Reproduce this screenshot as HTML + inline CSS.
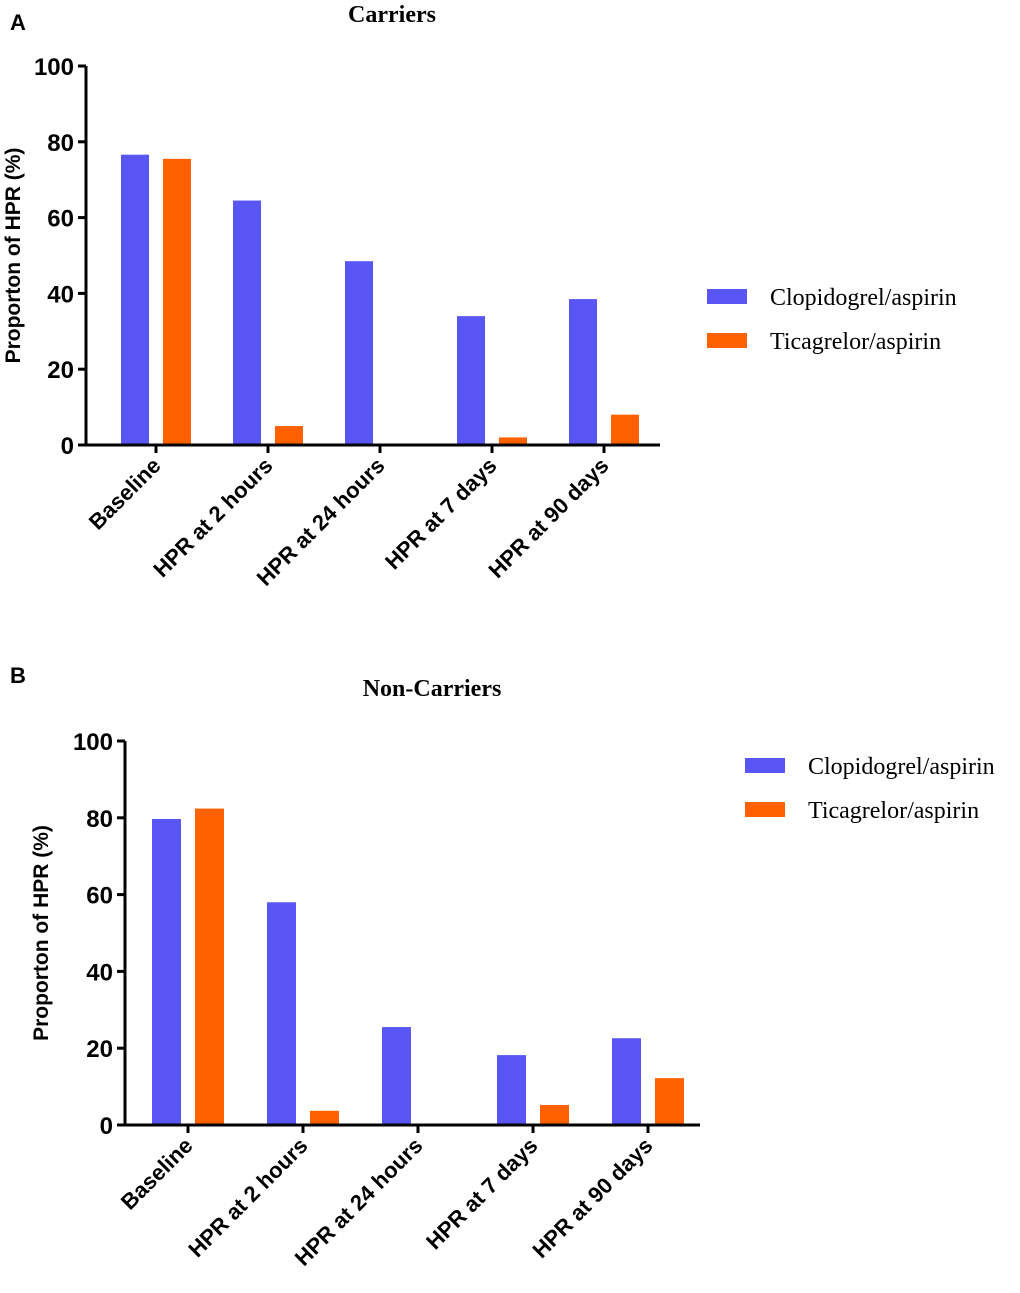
<!DOCTYPE html>
<html><head><meta charset="utf-8"><style>
body{margin:0;background:#fff}
svg text{font-family:"Liberation Sans",sans-serif}
.serif{font-family:"Liberation Serif",serif}
</style></head><body>
<svg id="chart" width="1020" height="1288" xmlns="http://www.w3.org/2000/svg"></svg>
<script>
const categories=["Baseline","HPR at 2 hours","HPR at 24 hours","HPR at 7 days","HPR at 90 days"];
const seriesNames=["Clopidogrel/aspirin","Ticagrelor/aspirin"];
const carriersClop=[76.6,64.5,48.5,34,38.5];
const carriersTica=[75.5,5,0,2,8];
const nonCarriersClop=[79.7,58,25.5,18.2,22.6];
const nonCarriersTica=[82.4,3.7,0,5.2,12.2];
const yTicks=[0,20,40,60,80,100];
const colors=["#5a55f5","#ff6000"];
const NS="http://www.w3.org/2000/svg";
const svg=document.getElementById('chart');
function mk(tag,attrs,parent,text){const e=document.createElementNS(NS,tag);for(const k in attrs)e.setAttribute(k,attrs[k]);if(text!==undefined)e.textContent=text;(parent||svg).appendChild(e);return e;}
function panel(cfg){
  const g=mk('g',{});
  
  
  const y=v=>cfg.y0-(cfg.y0-cfg.y100)*v/100;
  const x=i=>cfg.firstBar+i*cfg.step;
  const t=mk('text',{x:cfg.titleX,y:cfg.titleY,'text-anchor':'middle','font-size':24,'font-weight':'bold',class:'serif'},g,cfg.title);
  
  
  const l=mk('text',{x:10,y:cfg.letterY,'font-size':22,'font-weight':'bold'},g,cfg.letter);
  
  
  [cfg.a,cfg.b].forEach((arr,s)=>arr.forEach((v,i)=>{
    const r=mk('rect',{x:x(i)+s*cfg.pair,y:y(v),width:cfg.bw,height:y(0)-y(v),fill:colors[s]},g);
    
    
  }));
  const ax=mk('path',{d:`M${cfg.ax} ${cfg.y100}V${cfg.y0}H${cfg.axEnd}`,stroke:'#000','stroke-width':3,fill:'none'},g);
  
  
  yTicks.forEach(v=>{
    mk('line',{x1:cfg.ax-8,x2:cfg.ax,y1:y(v),y2:y(v),stroke:'#000','stroke-width':3},g);
    const tt=mk('text',{x:cfg.ax-12,y:y(v)+9,'text-anchor':'end','font-size':24,'font-weight':'bold'},g,v);
    
    
  });
  categories.forEach((c,i)=>{
    const cx=x(i)+(cfg.pair+cfg.bw)/2;
    mk('line',{x1:cx,x2:cx,y1:cfg.y0,y2:cfg.y0+8,stroke:'#000','stroke-width':3},g);
    const tt=mk('text',{x:cx+6,y:cfg.y0+22,'text-anchor':'end','font-size':22,'font-weight':'bold',transform:`rotate(-45 ${cx+6} ${cfg.y0+22})`},g,c);
    
    
  });
  const ymid=(cfg.y0+cfg.y100)/2;
  const yt=mk('text',{x:cfg.ytX,y:ymid,'text-anchor':'middle','font-size':21,'font-weight':'bold',transform:`rotate(-90 ${cfg.ytX} ${ymid})`},g,'Proporton of HPR (%)');
  
  
  seriesNames.forEach((n,s)=>{
    const ly=cfg.legY+s*44;
    const sw=mk('rect',{x:cfg.legX,y:ly,width:40,height:15,fill:colors[s]},g);
    
    
    const lt=mk('text',{x:cfg.legX+63,y:ly+16,'font-size':24,class:'serif'},g,n);
    
    
  });
}
panel({name:'panel-a-carriers',title:'Carriers',titleX:392,titleY:22,letter:'A',letterY:30,y0:445,y100:66,ax:86,axEnd:660,firstBar:121,step:112,bw:28,pair:42,ytX:20,a:carriersClop,b:carriersTica,legX:707,legY:289});
panel({name:'panel-b-non-carriers',title:'Non-Carriers',titleX:432,titleY:696,letter:'B',letterY:683,y0:1125,y100:741,ax:125,axEnd:700,firstBar:152,step:115,bw:29,pair:43,ytX:48,a:nonCarriersClop,b:nonCarriersTica,legX:745,legY:758});
</script>
</body></html>
